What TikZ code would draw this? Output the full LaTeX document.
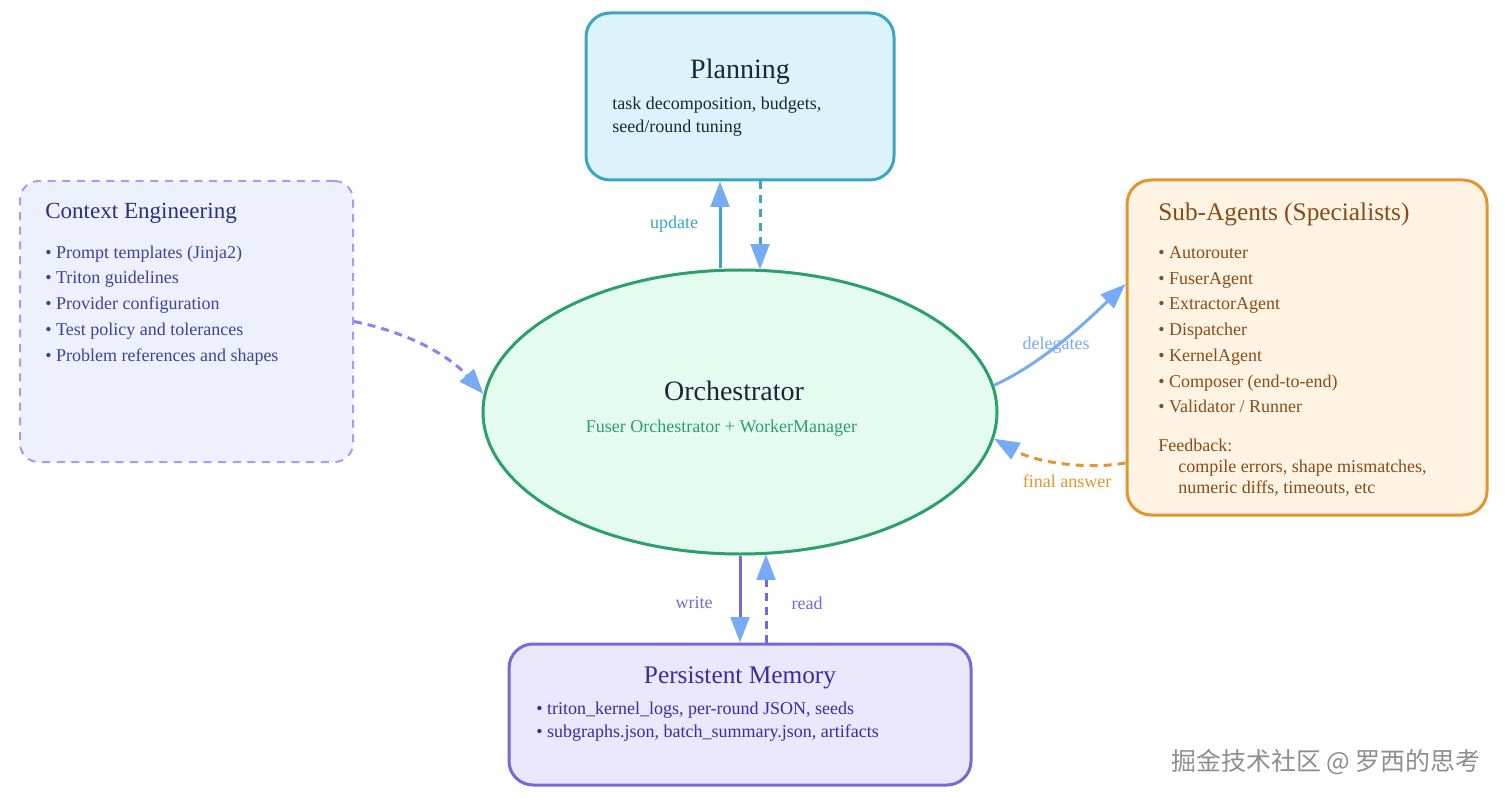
\documentclass[tikz,border=0pt]{standalone}
\usepackage{fontspec}
\setmainfont{Liberation Serif}
\newfontfamily\cjk{Noto Sans CJK SC}
\usetikzlibrary{arrows.meta,shapes.geometric,calc}
\definecolor{planfill}{HTML}{DDF3FC}
\definecolor{planline}{HTML}{3AA6C4}
\definecolor{ctxfill}{HTML}{EEF1FD}
\definecolor{ctxline}{HTML}{A99BF0}
\definecolor{ctxtitle}{HTML}{2B2F7D}
\definecolor{ctxtext}{HTML}{3D4296}
\definecolor{orchfill}{HTML}{E4FBEF}
\definecolor{orchline}{HTML}{2BA06E}
\definecolor{darktext}{HTML}{16283A}
\definecolor{subfill}{HTML}{FFF3E4}
\definecolor{subline}{HTML}{E5952F}
\definecolor{subtext}{HTML}{8A4B14}
\definecolor{memfill}{HTML}{EBE7FC}
\definecolor{memline}{HTML}{7A66DC}
\definecolor{memtext}{HTML}{3A2BA3}
\definecolor{tipblue}{HTML}{78ABF5}
\definecolor{ctxarrow}{HTML}{8E82EE}
\definecolor{wmark}{HTML}{8E8E8E}
\tikzset{
  boxshape/.style={draw, line width=2.25pt, rounded corners=18pt, inner sep=0pt},
  txt/.style={inner sep=0pt, yshift=-2.25pt},
  bigtitle/.style={txt, font=\fontsize{21}{25}\selectfont},
  midtitle/.style={txt, font=\fontsize{19}{23}\selectfont},
  bodytext/.style={txt, font=\fontsize{13.5}{16}\selectfont},
  lefttext/.style={bodytext, anchor=mid west},
  conn/.style={line width=2.25pt, -{Triangle[length=19pt,width=14pt,color=tipblue]}},
  dashconn/.style={conn, dash pattern=on 6pt off 4.5pt},
}
\begin{document}
\begin{tikzpicture}[x=0.75pt,y=-0.75pt]
\useasboundingbox[fill=white] (0,0) rectangle (1505,798);

% boxes
\node[boxshape, fill=planfill, draw=planline, minimum width=231pt, minimum height=125.25pt] (plan) at (740,96.5) {};
\node[boxshape, fill=ctxfill, draw=ctxline, line width=1.5pt, dash pattern=on 6pt off 5pt, rounded corners=14pt, minimum width=249.75pt, minimum height=210.75pt] (ctx) at (186.5,321.5) {};
\node[boxshape, fill=subfill, draw=subline, minimum width=270pt, minimum height=251.25pt] (sub) at (1307,347.5) {};
\node[boxshape, fill=memfill, draw=memline, minimum width=346.5pt, minimum height=105.75pt] (mem) at (740,714.5) {};
\node[ellipse, draw=orchline, fill=orchfill, line width=2.25pt, inner sep=0pt, minimum width=385.5pt, minimum height=213pt] (orch) at (740,412) {};

% Planning text
\node[bigtitle, text=darktext] (plant) at (740,69) {Planning};
\node[lefttext, text=darktext] (planb1) at (612,103) {task decomposition, budgets,};
\node[lefttext, text=darktext] (planb2) at (612,126) {seed/round tuning};

% Orchestrator text
\node[bigtitle, text=darktext] (orcht) at (734,388) {Orchestrator};
\node[bodytext, text=orchline] (orchs) at (721.5,425) {Fuser Orchestrator + WorkerManager};

% Context text
\node[txt, anchor=mid west, font=\fontsize{17.3}{20}\selectfont, text=ctxtitle] (ctxt) at (45,212) {Context Engineering};
\foreach \t/\y [count=\i] in {Prompt templates (Jinja2)/252, Triton guidelines/277, Provider configuration/303, Test policy and tolerances/329, Problem references and shapes/355}
  \node[lefttext, text=ctxtext] (ctx\i) at (45,\y) {• \t};

% Sub-agents text
\node[midtitle, anchor=mid west, text=subtext] (subt) at (1158,214) {Sub-Agents (Specialists)};
\foreach \t/\y [count=\i] in {Autorouter/252, FuserAgent/278, ExtractorAgent/303, Dispatcher/329, KernelAgent/355, Composer (end-to-end)/381, {Validator / Runner}/406}
  \node[lefttext, text=subtext] (sub\i) at (1158,\y) {• \t};
\node[lefttext, text=subtext] (subf) at (1158,445) {Feedback:};
\node[lefttext, text=subtext] (subf1) at (1178,466) {compile errors, shape mismatches,};
\node[lefttext, text=subtext] (subf2) at (1178,487) {numeric diffs, timeouts, etc};

% Memory text
\node[midtitle, text=memtext] (memt) at (740,675) {Persistent Memory};
\node[lefttext, text=memtext] (mem1) at (536,708) {• triton\_kernel\_logs, per-round JSON, seeds};
\node[lefttext, text=memtext] (mem2) at (536,731) {• subgraphs.json, batch\_summary.json, artifacts};

% connectors
\draw[conn, draw=planline] ($(orch.north)+(-20,0)$) -- ($(plan.south)+(-20,0)$);
\draw[dashconn, draw=planline] ($(plan.south)+(20,0)$) -- ($(orch.north)+(20,1)$);
\node[bodytext, text=planline] (lupd) at (674,221) {update};

\draw[conn, draw=memline] (orch.south) -- (mem.north);
\draw[dashconn, draw=memline] ($(mem.north)+(26,0)$) -- ($(orch.south)+(26,-1)$);
\node[bodytext, text=memline] (lwrite) at (694,600) {write};
\node[bodytext, text=memline] (lread) at (807,600) {read};

\draw[dashconn, draw=ctxarrow] (ctx.east) .. controls (420,335) and (455,362) .. (orch.176);

\draw[conn, draw=tipblue] (orch.6) .. controls (1045,362) and (1090,318) .. ($(sub.west)+(0,-63.5)$);
\node[bodytext, text=tipblue] (ldel) at (1056,342) {delegates};

\draw[dashconn, draw=subline] ($(sub.west)+(0,115.5)$) .. controls (1085,470) and (1035,462) .. (orch.354);
\node[bodytext, text=subline] (lfin) at (1067,478) {final answer};

% watermark
\node[inner sep=0pt, font=\cjk\fontsize{18.7}{22}\selectfont, text=wmark] (wm) at (1326,762) {掘金技术社区 @ 罗西的思考};
\end{tikzpicture}
\end{document}
